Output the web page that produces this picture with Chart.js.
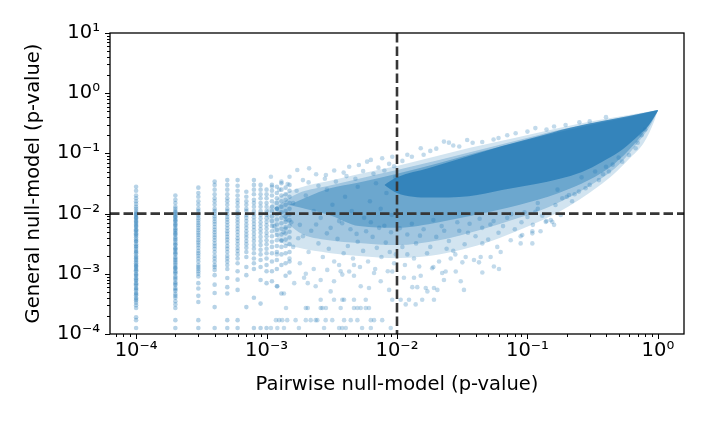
<!DOCTYPE html>
<html>
<head>
<meta charset="utf-8">
<script src="https://cdn.jsdelivr.net/npm/chart.js@4.4.1/dist/chart.umd.min.js"></script>
<style>
  html, body { margin: 0; padding: 0; background: #fff; }
  #wrap { width: 706px; height: 424px; }
</style>
</head>
<body>
<div id="wrap"><canvas id="chart" width="706" height="424"></canvas></div>
<script>
// axis ranges and threshold
var xMin = Math.pow(10, -4.2);
var xMax = Math.pow(10, 0.2);
var yMin = 1e-4;
var yMax = 10;
var threshold = 0.01;

// vertical stripes at small pairwise p-values (x) with their general p-values (y)
var stripeX = [1e-4, 2e-4, 3e-4, 4e-4, 5e-4, 6e-4, 7e-4, 8e-4, 9e-4, 1e-3, 1.1e-3, 1.2e-3, 1.3e-3, 1.4e-3, 1.5e-3];
var stripeY = [
  [0.028, 0.024, 0.02, 0.018, 0.016, 0.0145, 0.013, 0.012, 0.011, 0.0102, 0.0098, 0.0095, 0.0088, 0.0085, 0.0082, 0.0076, 0.0073, 0.007, 0.0065, 0.0062, 0.006, 0.0055, 0.0053, 0.0051, 0.0047, 0.0045, 0.0043, 0.004, 0.0037, 0.0035, 0.0034, 0.0031, 0.0029, 0.0028, 0.0026, 0.0024, 0.0023, 0.0022, 0.002, 0.0019, 0.0018, 0.0017, 0.0016, 0.0015, 0.0014, 0.00135, 0.0013, 0.0012, 0.00115, 0.0011, 0.001, 0.00096, 0.00092, 0.00084, 0.0008, 0.00077, 0.0007, 0.00067, 0.00064, 0.00058, 0.00056, 0.00053, 0.00048, 0.00046, 0.00044, 0.0004, 0.00038, 0.00036, 0.00033, 0.0003, 0.00027, 0.00019, 0.00017, 0.000126],
  [0.02, 0.017, 0.015, 0.013, 0.012, 0.011, 0.0105, 0.01, 0.0093, 0.0089, 0.0086, 0.008, 0.0077, 0.0074, 0.0068, 0.0065, 0.0062, 0.0057, 0.0054, 0.0052, 0.0048, 0.0046, 0.0044, 0.004, 0.0038, 0.0036, 0.0033, 0.0031, 0.003, 0.0027, 0.0026, 0.0025, 0.0023, 0.0022, 0.0021, 0.0019, 0.0018, 0.0017, 0.0016, 0.0015, 0.0014, 0.0013, 0.00125, 0.0012, 0.0011, 0.00105, 0.001, 0.0009, 0.00085, 0.0008, 0.00072, 0.00068, 0.00065, 0.00058, 0.00055, 0.00052, 0.00046, 0.00043, 0.0004, 0.00035, 0.00031, 0.00027, 0.00017, 0.000126],
  [0.027, 0.022, 0.019, 0.016, 0.014, 0.012, 0.011, 0.01, 0.0092, 0.0084, 0.0077, 0.007, 0.0064, 0.0058, 0.0053, 0.0048, 0.0044, 0.004, 0.0036, 0.0033, 0.003, 0.0027, 0.0024, 0.0022, 0.002, 0.0018, 0.0016, 0.0014, 0.0013, 0.0012, 0.0011, 0.001, 0.0009, 0.0007, 0.00057, 0.00043, 0.00034, 0.00017, 0.000126],
  [0.034, 0.03, 0.025, 0.021, 0.018, 0.016, 0.014, 0.012, 0.011, 0.01, 0.009, 0.0082, 0.0074, 0.0067, 0.006, 0.0054, 0.0049, 0.0044, 0.004, 0.0036, 0.0032, 0.0029, 0.0026, 0.0023, 0.002, 0.0018, 0.0016, 0.0014, 0.0013, 0.00116, 0.00095, 0.00066, 0.00048, 0.00028, 0.000126],
  [0.036, 0.03, 0.025, 0.021, 0.018, 0.016, 0.014, 0.012, 0.011, 0.0098, 0.0088, 0.008, 0.0072, 0.0064, 0.0057, 0.0051, 0.0046, 0.0041, 0.0037, 0.0033, 0.0029, 0.0026, 0.0023, 0.002, 0.0018, 0.0016, 0.0014, 0.0012, 0.00085, 0.0006, 0.00047, 0.00017, 0.000126],
  [0.036, 0.029, 0.024, 0.02, 0.017, 0.015, 0.013, 0.011, 0.01, 0.009, 0.008, 0.0071, 0.0063, 0.0056, 0.005, 0.0044, 0.0039, 0.0035, 0.0031, 0.0027, 0.0024, 0.0021, 0.0018, 0.0015, 0.0011, 0.0008, 0.00054, 0.00017, 0.000126],
  [0.023, 0.019, 0.016, 0.014, 0.012, 0.011, 0.0095, 0.0085, 0.0075, 0.0066, 0.0058, 0.0051, 0.0045, 0.004, 0.0035, 0.0031, 0.0027, 0.0023, 0.0019, 0.0013, 0.00095, 0.00028],
  [0.036, 0.03, 0.025, 0.021, 0.017, 0.015, 0.013, 0.011, 0.0098, 0.0087, 0.0077, 0.0068, 0.006, 0.0053, 0.0046, 0.004, 0.0035, 0.003, 0.0026, 0.0022, 0.0018, 0.0015, 0.0012, 0.0004, 0.000126],
  [0.03, 0.025, 0.021, 0.018, 0.015, 0.013, 0.011, 0.0095, 0.0083, 0.0072, 0.0063, 0.0055, 0.0048, 0.0041, 0.0035, 0.003, 0.0025, 0.0021, 0.0017, 0.0013, 0.00079, 0.00032, 0.000126],
  [0.025, 0.021, 0.018, 0.015, 0.013, 0.011, 0.0096, 0.0084, 0.0073, 0.0064, 0.0056, 0.0048, 0.0042, 0.0036, 0.0031, 0.0026, 0.0022, 0.0018, 0.0014, 0.0011, 0.0007, 0.000126],
  [0.03, 0.024, 0.02, 0.016, 0.013, 0.011, 0.009, 0.0075, 0.0062, 0.0051, 0.0042, 0.0034, 0.0028, 0.0022, 0.0016, 0.0011, 0.00075],
  [0.028, 0.022, 0.018, 0.015, 0.012, 0.0098, 0.008, 0.0066, 0.0054, 0.0044, 0.0036, 0.0029, 0.0023, 0.0017, 0.0012, 0.00062],
  [0.032, 0.025, 0.02, 0.016, 0.013, 0.0105, 0.0085, 0.0069, 0.0056, 0.0045, 0.0036, 0.0028, 0.0021, 0.0014, 0.00047],
  [0.027, 0.021, 0.017, 0.014, 0.011, 0.009, 0.0073, 0.0059, 0.0047, 0.0037, 0.0029, 0.0022, 0.0015, 0.00093],
  [0.03, 0.024, 0.019, 0.015, 0.012, 0.0097, 0.0078, 0.0062, 0.005, 0.004, 0.0031, 0.0023, 0.0016, 0.00105]
];

// scattered points of the cloud [pairwise, general]
var cloudPoints = [
  // bottom rows
  [1.08e-3, 0.000126], [1.21e-3, 0.000126], [1.36e-3, 0.000126], [1.77e-3, 0.000126], [2.76e-3, 0.000126], [3.6e-3, 0.000126], [3.8e-3, 0.000126], [4.05e-3, 0.000126], [5.4e-3, 0.000126], [6.3e-3, 0.000126], [8.95e-3, 0.000126],
  [1.18e-3, 0.00017], [1.25e-3, 0.00017], [1.32e-3, 0.00017], [1.44e-3, 0.00017], [1.67e-3, 0.00017], [2.0e-3, 0.00017], [2.18e-3, 0.00017], [2.38e-3, 0.00017], [2.45e-3, 0.00017], [2.84e-3, 0.00017], [3.19e-3, 0.00017], [3.93e-3, 0.00017], [4.42e-3, 0.00017], [4.97e-3, 0.00017], [6.3e-3, 0.00017], [6.67e-3, 0.00017], [7.7e-3, 0.00017],
  [1.41e-3, 0.00027], [2.0e-3, 0.00027], [2.07e-3, 0.00027], [2.6e-3, 0.00027], [2.68e-3, 0.00027], [2.85e-3, 0.00027], [3.7e-3, 0.00027], [4.68e-3, 0.00027], [4.97e-3, 0.00027], [5.27e-3, 0.00027], [5.76e-3, 0.00027], [6.1e-3, 0.00027],
  [2.6e-3, 0.00037], [3.29e-3, 0.00037], [3.81e-3, 0.00037], [3.93e-3, 0.00037], [4.68e-3, 0.00037], [5.76e-3, 0.00037], [9.2e-3, 0.00037],
  // sparse points left of the threshold
  [1.63e-3, 0.0007], [2.07e-3, 0.0007], [2.38e-3, 0.00062], [2.6e-3, 0.00079], [3.1e-3, 0.00051], [3.29e-3, 0.00075], [3.81e-3, 0.00097], [4.3e-3, 0.00109], [4.68e-3, 0.00093], [5.27e-3, 0.00062], [6.1e-3, 0.00058], [6.67e-3, 0.00103], [7.5e-3, 0.00075], [8.7e-3, 0.00054], [9.2e-3, 0.00109], [4.68e-3, 0.0014], [3.6e-3, 0.0014], [2.92e-3, 0.00116], [1.94e-3, 0.00086], [1.21e-3, 0.00062], [1.36e-3, 0.00047],
  [1.2e-3, 0.0021], [1.3e-3, 0.0035], [1.5e-3, 0.0018], [1.6e-3, 0.0028], [1.8e-3, 0.0015], [1.9e-3, 0.0042], [2.1e-3, 0.0023], [2.3e-3, 0.0012], [2.5e-3, 0.0032], [2.7e-3, 0.0019], [3.0e-3, 0.0026], [3.3e-3, 0.0016], [3.5e-3, 0.0038], [3.9e-3, 0.0022], [4.2e-3, 0.0029], [4.6e-3, 0.0018], [5.0e-3, 0.0034], [5.5e-3, 0.0024], [6.0e-3, 0.0016], [6.5e-3, 0.0041], [7.0e-3, 0.0027], [7.6e-3, 0.0019], [8.2e-3, 0.0033], [8.8e-3, 0.0023], [9.5e-3, 0.0015], [2.2e-3, 0.0052], [2.9e-3, 0.0047], [4.4e-3, 0.0055], [5.8e-3, 0.0051], [7.3e-3, 0.0058], [9e-3, 0.0049], [1.4e-3, 0.0056], [3.7e-3, 0.0011], [5.2e-3, 0.0013], [6.8e-3, 0.0012], [8.5e-3, 0.0011], [2.0e-3, 0.001], [9.8e-3, 0.0021],
  [1.15e-3, 0.0062], [1.35e-3, 0.0049], [1.55e-3, 0.0072], [1.75e-3, 0.0039], [2.4e-3, 0.0066], [3.1e-3, 0.0058], [3.8e-3, 0.0069], [4.9e-3, 0.0046], [6.3e-3, 0.0072], [8.0e-3, 0.0063],
  [1.2e-3, 0.012], [1.4e-3, 0.008], [1.6e-3, 0.015], [1.8e-3, 0.0065], [2.0e-3, 0.02], [2.3e-3, 0.011], [2.6e-3, 0.0085], [2.9e-3, 0.025], [3.2e-3, 0.014], [3.6e-3, 0.0075], [4.0e-3, 0.019], [4.5e-3, 0.011], [5.0e-3, 0.028], [5.6e-3, 0.0085], [6.2e-3, 0.016], [6.9e-3, 0.032], [7.5e-3, 0.012], [8.3e-3, 0.022], [9.1e-3, 0.0095], [9.7e-3, 0.04],
  // sparse points right of the threshold, below it
  [0.0113, 0.00086], [0.0131, 0.0006], [0.0143, 0.0006], [0.0166, 0.00058], [0.0192, 0.00058], [0.0204, 0.00054], [0.0229, 0.00079], [0.0236, 0.00109], [0.0222, 0.00103], [0.0308, 0.00075], [0.0326, 0.00054], [0.0282, 0.00109], [0.0317, 0.00155], [0.0389, 0.0017], [0.0425, 0.00155], [0.0451, 0.00105], [0.0553, 0.00132], [0.0605, 0.0012], [0.0522, 0.0019], [0.0623, 0.0023], [0.0887, 0.0032], [0.109, 0.0047], [0.126, 0.0051], [0.16, 0.0065], [0.151, 0.0078], [0.18, 0.0095],
  [0.01236, 0.00037], [0.0139, 0.00031], [0.01067, 0.00037], [0.0156, 0.00037], [0.0192, 0.00037], [0.0171, 0.00051], [0.01166, 0.00031], [0.0135, 0.00086], [0.0152, 0.00093], [0.0148, 0.00132], [0.0186, 0.00124], [0.0258, 0.0018], [0.0336, 0.0019], [0.0438, 0.0019], [0.0451, 0.0032], [0.0587, 0.0028], [0.0744, 0.0036], [0.0887, 0.0042], [0.109, 0.0032],
  [0.012, 0.0045], [0.014, 0.0032], [0.016, 0.0055], [0.018, 0.0028], [0.02, 0.0041], [0.022, 0.0062], [0.025, 0.0035], [0.027, 0.0024], [0.03, 0.0052], [0.033, 0.0031], [0.036, 0.0068], [0.04, 0.0042], [0.045, 0.0058], [0.05, 0.0037], [0.055, 0.0075], [0.06, 0.0048], [0.065, 0.0062], [0.07, 0.0085], [0.08, 0.0055], [0.09, 0.0072], [0.1, 0.0088], [0.11, 0.0065], [0.13, 0.0092], [0.14, 0.0075], [0.012, 0.0021], [0.0135, 0.0018], [0.017, 0.0022], [0.021, 0.0016], [0.024, 0.0026], [0.028, 0.0021], [0.011, 0.0028], [0.0115, 0.0014], [0.019, 0.0013],
  [0.0105, 0.0057], [0.013, 0.0068], [0.015, 0.0043], [0.019, 0.0078], [0.023, 0.0052], [0.029, 0.0072], [0.035, 0.0048], [0.043, 0.0082], [0.052, 0.0066], [0.075, 0.0098], [0.095, 0.0105], [0.12, 0.012], [0.2, 0.019], [0.23, 0.021],
  // upper edge
  [1.08e-3, 0.041], [1.72e-3, 0.053], [2.12e-3, 0.0565], [2.85e-3, 0.0437], [4.3e-3, 0.06], [5.9e-3, 0.073], [7.7e-3, 0.083], [5.1e-3, 0.064], [6.3e-3, 0.078], [9.2e-3, 0.088], [0.0152, 0.122], [0.0229, 0.157], [0.025, 0.151], [0.0345, 0.167], [0.0812, 0.216], [0.115, 0.263], [0.196, 0.296], [1.3e-3, 0.034], [1.5e-3, 0.041], [2.4e-3, 0.045], [3.3e-3, 0.052], [3.9e-3, 0.048], [1.9e-3, 0.036], [0.012, 0.095], [0.018, 0.11], [0.03, 0.13], [0.045, 0.155], [0.06, 0.18], [0.14, 0.25], [0.3, 0.34],
  [1.1e-3, 0.028], [1.25e-3, 0.025], [1.45e-3, 0.031], [1.7e-3, 0.024], [2.1e-3, 0.033], [2.5e-3, 0.029], [2.8e-3, 0.038], [3.4e-3, 0.034], [4.1e-3, 0.042], [4.8e-3, 0.038], [5.5e-3, 0.051], [6.6e-3, 0.046], [7.2e-3, 0.058], [8.0e-3, 0.052], [8.7e-3, 0.067], [9.5e-3, 0.061], [0.011, 0.075], [0.013, 0.088], [0.016, 0.095], [0.02, 0.12], [0.027, 0.135], [0.038, 0.15], [0.055, 0.17], [0.07, 0.2], [0.1, 0.23], [0.16, 0.28], [0.25, 0.33], [0.4, 0.4],
  // lower right edge
  [0.421, 0.0499], [0.353, 0.036], [0.248, 0.0232], [0.208, 0.0204], [0.164, 0.0139], [0.138, 0.0073], [0.109, 0.0051], [0.0912, 0.0044], [0.155, 0.0073], [0.6, 0.094], [0.675, 0.122], [0.532, 0.073], [0.279, 0.0264], [0.185, 0.018], [0.115, 0.0107], [0.45, 0.065], [0.38, 0.045], [0.3, 0.03], [0.22, 0.016], [0.5, 0.085], [0.7, 0.15], [0.75, 0.2], [0.8, 0.25], [0.26, 0.04], [0.33, 0.05], [0.4, 0.06], [0.17, 0.025], [0.12, 0.015]
];

// outlines of the cloud at four densities, outer to inner [pairwise, general]
var outerUpper = [[9.7e-4, 0.0106], [1.25e-3, 0.0189], [1.77e-3, 0.0266], [3.01e-3, 0.0348], [5.11e-3, 0.0455], [0.01, 0.0618], [0.0176, 0.0839], [0.0356, 0.1229], [0.086, 0.187], [0.174, 0.264], [0.353, 0.359], [0.6, 0.435], [1.0, 0.526]];
var outerLower = [[9.7e-4, 0.0106], [1.25e-3, 0.0036], [1.77e-3, 0.0027], [3.01e-3, 0.00222], [5.11e-3, 0.00198], [0.01036, 0.00183], [0.021, 0.0021], [0.0356, 0.0027], [0.0605, 0.0039], [0.1027, 0.0062], [0.174, 0.0106], [0.248, 0.0168], [0.353, 0.0287], [0.46, 0.0455], [0.6, 0.0806], [0.78, 0.15], [0.93, 0.33], [1.0, 0.526]];
var midUpper = [[1.14e-3, 0.0124], [1.77e-3, 0.022], [3.01e-3, 0.029], [5.11e-3, 0.038], [0.01, 0.053], [0.021, 0.078], [0.0425, 0.114], [0.086, 0.167], [0.174, 0.245], [0.353, 0.333], [0.6, 0.418], [1.0, 0.526]];
var midLower = [[1.14e-3, 0.0124], [1.77e-3, 0.0049], [3.01e-3, 0.0036], [5.11e-3, 0.00325], [0.01, 0.003], [0.021, 0.0036], [0.0425, 0.0053], [0.086, 0.0085], [0.146, 0.0129], [0.227, 0.0204], [0.353, 0.036], [0.502, 0.065], [0.69, 0.145], [0.883, 0.3], [1.0, 0.526]];
var denseUpper = [[1.49e-3, 0.0139], [3.01e-3, 0.026], [5.11e-3, 0.033], [0.01, 0.046], [0.021, 0.0692], [0.0425, 0.105], [0.086, 0.1547], [0.174, 0.2267], [0.353, 0.32], [0.6, 0.402], [1.0, 0.526]];
var denseLower = [[1.49e-3, 0.0139], [3.01e-3, 0.0095], [5.11e-3, 0.0062], [0.01, 0.0058], [0.021, 0.0072], [0.0425, 0.00985], [0.086, 0.0139], [0.174, 0.022], [0.296, 0.036], [0.46, 0.066], [0.655, 0.14], [0.853, 0.29], [1.0, 0.506]];
var coreUpper = [[8e-3, 0.03], [0.01, 0.04], [0.0176, 0.0571], [0.0356, 0.0906], [0.0638, 0.1327], [0.116, 0.187], [0.208, 0.264], [0.372, 0.345], [0.6, 0.418], [1.0, 0.526]];
var coreLower = [[8e-3, 0.03], [0.01, 0.022], [0.0176, 0.0185], [0.0356, 0.0195], [0.0638, 0.0247], [0.116, 0.031], [0.174, 0.0376], [0.262, 0.049], [0.372, 0.072], [0.502, 0.105], [0.678, 0.18], [0.853, 0.296], [1.0, 0.506]];

var sup = { '-': '\u207B', '0': '\u2070', '1': '\u00B9', '2': '\u00B2', '3': '\u00B3', '4': '\u2074', '5': '\u2075' };

function powLabel(v) {
  var e = Math.log10(v);
  var r = Math.round(e);
  if (Math.abs(e - r) > 1e-6) return '';
  return '10' + String(r).split('').map(function (c) { return sup[c]; }).join('');
}

function toXY(list) {
  return list.map(function (p) { return { x: p[0], y: p[1] }; });
}

var stripePts = [];
for (var i = 0; i < stripeX.length; i++) {
  for (var j = 0; j < stripeY[i].length; j++) {
    stripePts.push({ x: stripeX[i], y: stripeY[i][j] });
  }
}

function band(data, fill, alpha, order) {
  return {
    type: 'line',
    data: toXY(data),
    fill: fill,
    backgroundColor: 'rgba(31,119,180,' + alpha + ')',
    borderColor: 'transparent',
    pointRadius: 0,
    cubicInterpolationMode: 'monotone',
    order: order
  };
}

// axis frame and log ticks
var axisDecor = {
  id: 'axisDecor',
  afterDraw: function (chart) {
    var ctx = chart.ctx;
    var a = chart.chartArea;
    var xs = chart.scales.x;
    var ys = chart.scales.y;
    ctx.save();
    ctx.strokeStyle = '#000';
    ctx.lineWidth = 1;
    ctx.beginPath();
    for (var e = -5; e <= 1; e++) {
      for (var k = 1; k <= 9; k++) {
        var v = k * Math.pow(10, e);
        var len = k === 1 ? 5 : 3;
        if (v >= xs.min * 0.9999 && v <= xs.max * 1.0001) {
          var px = Math.round(xs.getPixelForValue(v)) + 0.5;
          ctx.moveTo(px, a.bottom);
          ctx.lineTo(px, a.bottom + len);
        }
        if (v >= ys.min * 0.9999 && v <= ys.max * 1.0001) {
          var py = Math.round(ys.getPixelForValue(v)) + 0.5;
          ctx.moveTo(a.left - len, py);
          ctx.lineTo(a.left, py);
        }
      }
    }
    ctx.stroke();
    ctx.lineWidth = 1.3;
    ctx.strokeRect(a.left, a.top, a.right - a.left, a.bottom - a.top);
    ctx.restore();
  }
};

Chart.defaults.font.family = "'DejaVu Sans', sans-serif";
Chart.defaults.font.size = 19.5;
Chart.defaults.color = '#000';

new Chart(document.getElementById('chart'), {
  type: 'scatter',
  data: {
    datasets: [
      {
        type: 'line',
        data: [{ x: xMin, y: threshold }, { x: xMax, y: threshold }],
        borderColor: '#363636', borderWidth: 2.6, borderDash: [9.5, 4],
        pointRadius: 0, fill: false, order: 0
      },
      {
        type: 'line',
        data: [{ x: threshold, y: yMax }, { x: threshold, y: yMin }],
        borderColor: '#363636', borderWidth: 2.6, borderDash: [9.5, 4],
        pointRadius: 0, fill: false, order: 0
      },
      {
        data: stripePts,
        pointRadius: 2.3, pointBorderWidth: 0,
        pointBackgroundColor: 'rgba(31,119,180,0.32)', order: 1
      },
      {
        data: toXY(cloudPoints),
        pointRadius: 2.3, pointBorderWidth: 0,
        pointBackgroundColor: 'rgba(31,119,180,0.27)', order: 1
      },
      band(outerUpper, '+1', 0.2, 7),
      band(outerLower, false, 0, 7),
      band(midUpper, '+1', 0.28, 6),
      band(midLower, false, 0, 6),
      band(denseUpper, '+1', 0.4, 5),
      band(denseLower, false, 0, 5),
      band(coreUpper, '+1', 0.72, 4),
      band(coreLower, false, 0, 4)
    ]
  },
  options: {
    responsive: false,
    animation: false,
    events: [],
    layout: { padding: { left: 21.8, right: 22, top: 33, bottom: 27.3 } },
    plugins: { legend: { display: false }, tooltip: { enabled: false } },
    scales: {
      x: {
        type: 'logarithmic',
        min: xMin,
        max: xMax,
        grid: { display: false, drawTicks: false },
        border: { display: false },
        ticks: { autoSkip: false, maxRotation: 0, padding: 5, callback: powLabel },
        title: { display: true, text: 'Pairwise null-model (p-value)', padding: 0 },
        afterFit: function (s) { s.height = 62.7; }
      },
      y: {
        type: 'logarithmic',
        min: yMin,
        max: yMax,
        grid: { display: false, drawTicks: false },
        border: { display: false },
        ticks: { autoSkip: false, padding: 10, callback: powLabel },
        title: { display: true, text: 'General null-model (p-value)', padding: 0 },
        afterFit: function (s) { s.width = 88.2; }
      }
    }
  },
  plugins: [axisDecor]
});
</script>
</body>
</html>
